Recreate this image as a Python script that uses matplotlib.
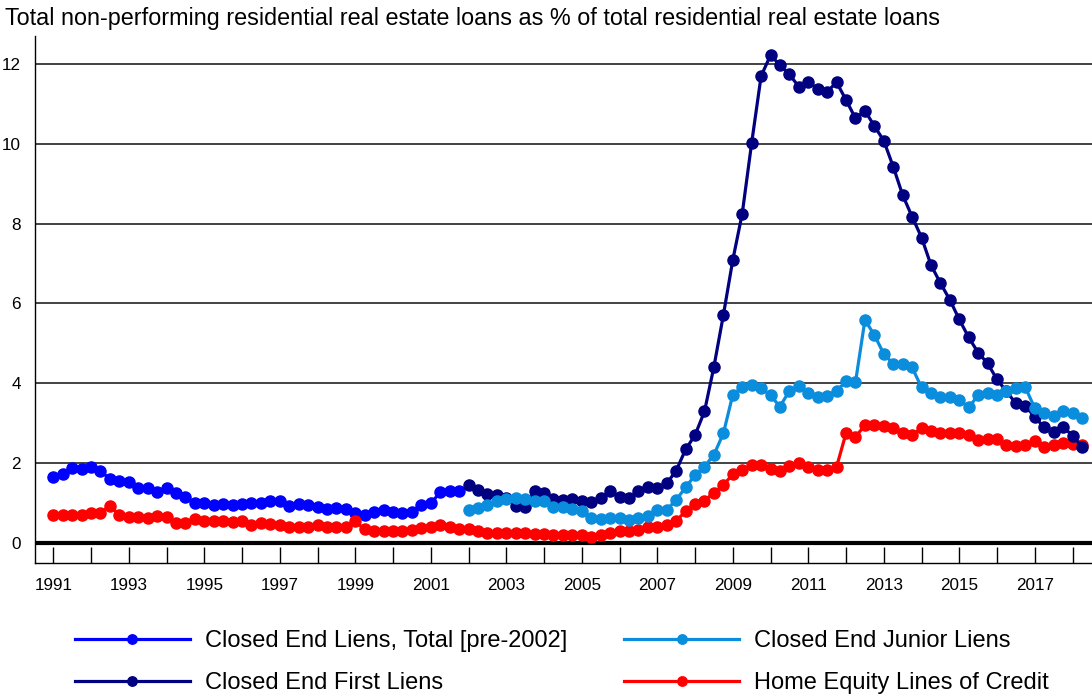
import numpy as np
import matplotlib
matplotlib.use("Agg")
import matplotlib.pyplot as plt

plt.rcParams['font.family'] = ['Liberation Sans', 'DejaVu Sans']

# Quarterly non-performing ratios (%), by loan type
total_pre2002 = [  # 1991Q1 - 2001Q4
    1.65, 1.74, 1.88, 1.85, 1.90, 1.80, 1.62, 1.56, 1.54, 1.38, 1.38, 1.28,
    1.39, 1.25, 1.15, 1.02, 1.00, 0.97, 0.99, 0.96, 0.99, 1.00, 1.02, 1.05,
    1.05, 0.94, 0.99, 0.96, 0.92, 0.86, 0.88, 0.87, 0.75, 0.71, 0.78, 0.84,
    0.78, 0.75, 0.78, 0.96, 1.00, 1.28, 1.30, 1.30,
]
first_liens = [  # 2002Q1 - 2018Q2
    1.46, 1.34, 1.24, 1.21, 1.13, 0.94, 0.92, 1.32, 1.25, 1.10, 1.09, 1.11,
    1.05, 1.03, 1.13, 1.30, 1.17, 1.13, 1.30, 1.40, 1.38, 1.50, 1.82, 2.35,
    2.71, 3.30, 4.42, 5.71, 7.09, 8.25, 10.02, 11.69, 12.21, 11.96, 11.73, 11.42,
    11.55, 11.36, 11.30, 11.53, 11.09, 10.63, 10.82, 10.44, 10.07, 9.42, 8.71, 8.17,
    7.65, 6.96, 6.51, 6.09, 5.60, 5.15, 4.77, 4.50, 4.10, 3.80, 3.50, 3.44,
    3.16, 2.90, 2.78, 2.92, 2.69, 2.42,
]
junior_liens = [  # 2002Q1 - 2018Q2
    0.84, 0.88, 0.95, 1.06, 1.10, 1.13, 1.11, 1.07, 1.05, 0.92, 0.90, 0.87,
    0.80, 0.63, 0.60, 0.63, 0.63, 0.59, 0.63, 0.69, 0.84, 0.84, 1.09, 1.40,
    1.71, 1.92, 2.22, 2.75, 3.72, 3.91, 3.95, 3.89, 3.70, 3.42, 3.82, 3.93,
    3.77, 3.65, 3.69, 3.82, 4.05, 4.03, 5.59, 5.21, 4.74, 4.49, 4.49, 4.40,
    3.90, 3.77, 3.67, 3.67, 3.59, 3.40, 3.71, 3.77, 3.70, 3.80, 3.88, 3.90,
    3.38, 3.26, 3.19, 3.31, 3.26, 3.13,
]
heloc = [  # 1991Q1 - 2018Q2
    0.70, 0.70, 0.71, 0.71, 0.77, 0.77, 0.94, 0.71, 0.67, 0.65, 0.63, 0.69,
    0.65, 0.52, 0.52, 0.60, 0.57, 0.57, 0.56, 0.53, 0.56, 0.45, 0.50, 0.48,
    0.45, 0.40, 0.40, 0.42, 0.45, 0.40, 0.42, 0.42, 0.55, 0.35, 0.31, 0.30,
    0.31, 0.30, 0.34, 0.38, 0.42, 0.46, 0.40, 0.35, 0.35, 0.32, 0.27, 0.27,
    0.27, 0.26, 0.26, 0.24, 0.24, 0.20, 0.20, 0.20, 0.20, 0.17, 0.21, 0.25,
    0.30, 0.30, 0.34, 0.42, 0.42, 0.46, 0.57, 0.80, 0.99, 1.07, 1.27, 1.46,
    1.73, 1.83, 1.95, 1.97, 1.87, 1.80, 1.93, 2.01, 1.90, 1.84, 1.84, 1.92,
    2.76, 2.67, 2.95, 2.95, 2.94, 2.88, 2.76, 2.71, 2.88, 2.80, 2.76, 2.76,
    2.77, 2.71, 2.59, 2.61, 2.60, 2.46, 2.44, 2.46, 2.55, 2.42, 2.46, 2.50,
    2.49, 2.46,
]

series_labels = [
    "Closed End Liens, Total [pre-2002]",
    "Closed End First Liens",
    "Closed End Junior Liens",
    "Home Equity Lines of Credit",
]
series_colors = ["#0000ff", "#000080", "#0a8ddc", "#ff0000"]
year_ticks = list(range(1991, 2019))
year_labels = [str(y) if (y - 1991) % 2 == 0 else "" for y in year_ticks]
title = "Total non-performing residential real estate loans as % of total residential real estate loans"


def quarter_positions(start_year, count):
    """Decimal-year position of each consecutive quarter."""
    return start_year + np.arange(count) / 4.0


fig = plt.figure(figsize=(10.92, 6.98), dpi=100)
W, H = 1092, 698
ax = fig.add_axes([35 / W, 1 - 563 / H, 1 - 35 / W, (563 - 36) / H])

style = dict(marker="o", markersize=8, linewidth=2.3, solid_joinstyle="round")
h_total, = ax.plot(quarter_positions(1991, len(total_pre2002)), total_pre2002,
                   color=series_colors[0], zorder=3, **style)
h_heloc, = ax.plot(quarter_positions(1991, len(heloc)), heloc,
                   color=series_colors[3], zorder=4, **style)
h_first, = ax.plot(quarter_positions(2002, len(first_liens)), first_liens,
                   color=series_colors[1], zorder=5, **style)
h_junior, = ax.plot(quarter_positions(2002, len(junior_liens)), junior_liens,
                    color=series_colors[2], zorder=6, **style)

ax.set_xlim(1990.515, 2018.515)
ax.set_ylim(-0.49, 12.69)

ax.set_yticks(range(0, 13, 2))
ax.yaxis.grid(True, color="#222222", linewidth=1.2)
ax.set_axisbelow(True)
ax.axhline(0, color="black", linewidth=3, zorder=2)

ax.set_xticks(year_ticks)
ax.set_xticklabels(year_labels)
ax.tick_params(axis="x", direction="in", length=11.5, width=1, pad=11,
               labelsize=12.3, colors="black")
ax.tick_params(axis="y", length=0, pad=10, labelsize=12.3)

for side in ("top", "right"):
    ax.spines[side].set_visible(False)
for side in ("left", "bottom"):
    ax.spines[side].set_color("black")
    ax.spines[side].set_linewidth(1)

fig.text(5 / W, 1 - 18 / H, title, fontsize=16.8, ha="left", va="center")

fig.legend([h_total, h_first, h_junior, h_heloc],
           [series_labels[0], series_labels[1], series_labels[2], series_labels[3]],
           ncol=2, loc="upper left", bbox_to_anchor=(75 / W, 1 - 630 / H),
           frameon=False, fontsize=17, handlelength=4.87, handletextpad=0.64,
           columnspacing=2.4, labelspacing=0.85, markerscale=0.85,
           borderpad=0, borderaxespad=0)

fig.savefig("out.png", dpi=100)
